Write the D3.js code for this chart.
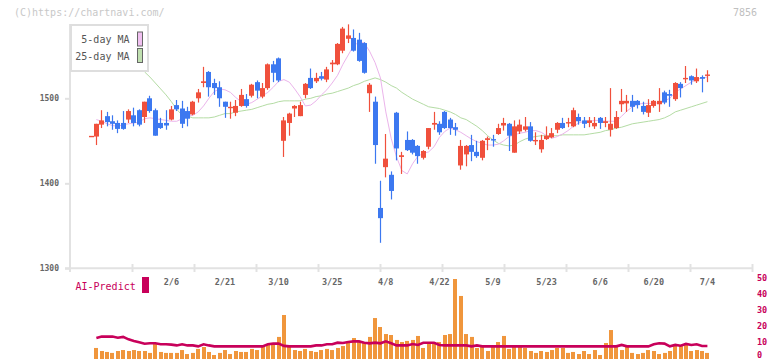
<!DOCTYPE html>
<html><head><meta charset="utf-8">
<script src="https://cdn.jsdelivr.net/npm/d3@7"></script>
<style>body{margin:0;background:#fff;}svg{display:block;}</style>
</head><body>
<script>
const openP  = [1455,1455,1469,1479,1473,1471,1471,1475,1480,1486,1478,1500,1486,1471,1471,1475,1492,1488,1485,1481,
1500,1518,1531,1518,1513,1496,1489,1483,1491,1499,1503,1519,1502,1512,1540,1547,1450,1471,1488,1479,
1504,1524,1520,1526,1522,1540,1540,1556,1570,1571,1569,1565,1506,1496,1371,1419,1410,1483,1431,1451,
1451,1444,1430,1443,1469,1470,1484,1475,1466,1421,1434,1445,1437,1430,1451,1452,1458,1468,1470,1436,
1461,1463,1467,1450,1440,1452,1454,1463,1471,1471,1467,1478,1474,1471,1467,1477,1471,1463,1465,1493,
1494,1497,1497,1491,1483,1491,1493,1507,1505,1499,1517,1523,1526,1520,1525,1527];
const closeP = [1455,1470,1474,1472,1470,1464,1464,1485,1471,1469,1496,1485,1456,1465,1468,1487,1487,1470,1476,1496,
1507,1520,1513,1512,1500,1490,1490,1491,1504,1491,1516,1509,1512,1540,1530,1521,1474,1482,1491,1492,
1517,1512,1524,1523,1534,1542,1564,1582,1574,1556,1544,1530,1516,1445,1359,1429,1391,1441,1433,1439,
1436,1432,1438,1465,1471,1460,1465,1465,1463,1444,1444,1437,1432,1450,1453,1451,1465,1471,1456,1467,
1469,1467,1450,1451,1451,1456,1459,1471,1465,1472,1486,1473,1470,1474,1471,1471,1473,1470,1478,1497,
1497,1490,1492,1484,1492,1497,1497,1495,1503,1518,1512,1524,1521,1525,1523,1528];
const highP  = [1455,1470,1486,1484,1480,1474,1485,1487,1489,1487,1496,1503,1488,1477,1486,1491,1498,1497,1490,1497,
1511,1537,1532,1523,1520,1496,1496,1498,1511,1505,1517,1521,1518,1541,1544,1548,1478,1483,1492,1496,
1518,1535,1530,1531,1537,1545,1565,1584,1587,1581,1577,1566,1518,1502,1403,1458,1414,1484,1437,1461,
1452,1445,1439,1465,1484,1473,1485,1477,1471,1451,1445,1457,1450,1451,1455,1457,1470,1477,1471,1474,
1475,1478,1472,1460,1457,1467,1465,1472,1477,1477,1489,1482,1478,1478,1478,1478,1478,1512,1485,1511,
1504,1504,1498,1496,1499,1498,1512,1509,1510,1519,1519,1538,1527,1535,1527,1533];
const lowP   = [1455,1445,1465,1467,1463,1459,1463,1471,1467,1467,1471,1483,1456,1464,1463,1474,1485,1465,1467,1480,
1495,1513,1502,1504,1490,1477,1476,1479,1490,1489,1501,1500,1500,1510,1519,1519,1431,1456,1478,1479,
1500,1511,1518,1521,1519,1531,1539,1553,1565,1555,1543,1529,1484,1423,1330,1407,1381,1427,1411,1438,
1434,1423,1428,1440,1463,1457,1464,1457,1456,1416,1420,1426,1430,1427,1439,1443,1457,1462,1438,1436,
1458,1461,1449,1445,1436,1451,1453,1459,1464,1466,1466,1469,1465,1466,1464,1464,1466,1455,1464,1484,
1484,1484,1488,1481,1478,1489,1484,1493,1490,1497,1501,1518,1516,1518,1507,1519];
const ma5 = [null,1475,1473,1470,1468,1467,1469,1470,1471,1472,1476,1477,1476,1475,1474,1473,1473,1476,1479,1480,
1484,1491,1500,1508,1511,1510,1507,1501,1496,1493,1495,1499,1503,1507,1513,1520,1522,1519,1511,1502,
1491,1492,1497,1504,1510,1518,1527,1540,1551,1562,1566,1565,1555,1542,1524,1484,1453,1431,1415,1411,
1423,1432,1435,1437,1443,1454,1461,1465,1463,1460,1456,1452,1449,1447,1445,1445,1446,1450,1455,1457,
1459,1460,1462,1462,1460,1456,1453,1455,1458,1462,1467,1471,1473,1473,1474,1474,1473,1473,1473,1479,
1485,1490,1493,1494,1494,1494,1495,1497,1500,1507,1511,1515,1519,1522,1524,1525];
const ma25 = [null,null,null,null,null,null,null,null,null,1538,1531,1525,1518,1511,1504,1496,1487,1480,1479,1477,
1477,1477,1477,1478,1480,1482,1482,1484,1485,1486,1487,1489,1491,1493,1494,1496,1497,1497,1497,1497,
1499,1500,1502,1503,1505,1506,1508,1510,1512,1515,1517,1520,1522,1524,1522,1519,1515,1512,1507,1503,
1499,1496,1493,1490,1489,1488,1486,1484,1481,1477,1475,1471,1467,1462,1456,1451,1447,1445,1444,1445,
1449,1452,1454,1455,1456,1456,1456,1456,1457,1457,1457,1457,1457,1458,1459,1460,1462,1463,1465,1466,
1468,1470,1471,1472,1473,1474,1475,1477,1480,1484,1486,1488,1490,1492,1494,1496];
const volume = [null,6.9,5,4.4,3.8,5,5.6,5,5.6,5,5,3.8,9.4,4.4,3.8,3.8,3.8,5.6,3.1,3.8,
6.3,7.5,4.4,2.5,3.8,5.6,3.1,5,4.4,4.4,6.3,5.6,7.5,8.8,9.4,13.8,27.5,7.5,5.6,5,
6.3,5,4.4,5.6,6.3,5.6,6.9,8.1,10,13.1,10.6,10.6,13.8,25.6,20,15.6,15,11.9,10.6,11.3,
11.9,14.4,6.9,9.4,10.6,10.6,15,15.6,50,39.4,15.6,13.8,6.9,7.5,5,7.5,10.6,14.4,6.3,7.5,
7.5,6.9,5,3.8,5,4.4,5.6,6.9,6.9,3.8,4.4,3.1,5,3.1,5.6,2.5,10,18.1,7.5,5.6,
7.5,3.8,3.1,3.8,5.6,5,3.1,3.8,5,8.1,8.1,8.8,5,5.6,5,3.8];
const aiPredict = [null,13.1,14,14,14,13.3,13.8,12.3,11.2,10.4,9.5,9.8,9.8,9.2,9.2,9,8.5,9.2,8.5,8.5,
7.9,9.2,8.5,7.9,7.9,7.9,7.9,7.9,7.9,7.9,7.9,7.9,7.9,9.2,9.6,9.6,8.2,7.9,7.9,7.9,
7.9,7.9,8.5,8.5,9.2,9.2,10.2,10,10.6,11,11,10.2,9.8,10.2,9.8,11,9.8,8.5,8.5,8.5,
9.4,8.8,10.2,10.2,10.2,8.8,8.5,8.5,8.5,8.5,8.5,7.9,8.5,7.9,7.9,7.9,7.9,7.9,7.9,7.9,
7.9,7.9,7.9,7.9,7.9,7.9,7.9,7.9,7.9,7.9,7.9,7.9,7.9,7.9,7.9,7.9,7.9,7.9,7.9,8.8,
7.9,7.9,7.9,7.9,7.9,9.2,9.8,9.6,7.9,8.8,8.3,9.4,8.8,9.2,8.1,8.1];
const xLabels = ["2/6","2/21","3/10","3/25","4/8","4/22","5/9","5/23","6/6","6/20","7/4"];
const xLabelIdx = [15,25,35,45,55,65,75,85,95,105,115];
const yTicks = [1300,1400,1500];
const vTicks = [0,10,20,30,40,50];
const gridTickCount = 11;

const W = 772, H = 361;
const svg = d3.select("body").append("svg").attr("width", W).attr("height", H);
const mono = "'DejaVu Sans Mono', 'Liberation Mono', monospace";

const x = d3.scaleLinear().domain([0, 115]).range([91, 707.4]);
const y = d3.scaleLinear().domain([1300, 1600]).range([268.3, 13.3]);
const v = d3.scaleLinear().domain([0, 50]).range([359, 279]);
const gx = d3.scaleLinear().domain([0, gridTickCount]).range([70, 752]);

const RED = "#f0503c", BLUE = "#3c78f0", AXIS = "#e2e2e2", MAG = "#c8005a";

// header texts
svg.append("text").attr("x", 14).attr("y", 15.5).attr("font-family", mono).attr("font-size", 10)
  .attr("fill", "#c8c8c8").text("(C)https://chartnavi.com/");
svg.append("text").attr("x", 757).attr("y", 15.5).attr("text-anchor", "end").attr("font-family", mono)
  .attr("font-size", 10).attr("fill", "#c0c0c0").text("7856");

// axes
svg.append("line").attr("x1", 70).attr("x2", 70).attr("y1", 24).attr("y2", 272)
  .attr("stroke", AXIS).attr("stroke-width", 2);
svg.append("line").attr("x1", 65).attr("x2", 752).attr("y1", y(1300)).attr("y2", y(1300))
  .attr("stroke", AXIS).attr("stroke-width", 2);
svg.append("g").selectAll("line").data(d3.range(1, gridTickCount + 1)).join("line")
  .attr("x1", d => Math.round(gx(d)) + 0.5).attr("x2", d => Math.round(gx(d)) + 0.5)
  .attr("y1", 264).attr("y2", 272).attr("stroke", AXIS).attr("stroke-width", 2);

const yAxis = d3.axisLeft(y).tickValues(yTicks).tickSize(5).tickPadding(6).tickFormat(d3.format("d"));
const yg = svg.append("g").attr("transform", "translate(70,0)").call(yAxis);
yg.select(".domain").remove();
yg.selectAll(".tick line").attr("stroke", AXIS).attr("stroke-width", 2);
yg.selectAll(".tick text").attr("font-family", mono).attr("font-size", 8).attr("font-weight", "bold").attr("fill", "#666");

// x labels
svg.append("g").selectAll("text").data(xLabels).join("text")
  .attr("x", (d, k) => x(xLabelIdx[k])).attr("y", 285)
  .attr("text-anchor", "middle").attr("font-family", mono).attr("font-size", 8.5).attr("font-weight", "bold")
  .attr("fill", "#666").text(d => d);

// moving averages
const lineGen = d3.line().defined(d => d != null).x((d, i) => x(i)).y(d => y(d));
svg.append("path").datum(ma25).attr("d", lineGen).attr("fill", "none").attr("stroke", "#b4dca4").attr("stroke-width", 1);
svg.append("path").datum(ma5).attr("d", lineGen).attr("fill", "none").attr("stroke", "#ebb4eb").attr("stroke-width", 1);

// candles
const cg = svg.append("g");
openP.forEach((o, i) => {
  const c = closeP[i], h = highP[i], l = lowP[i];
  const col = c >= o ? RED : BLUE;
  const left = Math.round(x(i) - 2.5);
  const cx = left + 2.5;
  cg.append("line").attr("x1", cx).attr("x2", cx).attr("y1", y(h)).attr("y2", y(l))
    .attr("stroke", col).attr("stroke-width", 1.2);
  if (o === c) {
    cg.append("line").attr("x1", left).attr("x2", left + 5).attr("y1", y(o)).attr("y2", y(o))
      .attr("stroke", col).attr("stroke-width", 1.4);
  } else {
    const top = y(Math.max(o, c)), bot = y(Math.min(o, c));
    cg.append("rect").attr("x", left).attr("y", top).attr("width", 5).attr("height", Math.max(1.4, bot - top))
      .attr("fill", col);
  }
});

// legend
svg.append("rect").attr("x", 71).attr("y", 25).attr("width", 77).attr("height", 46)
  .attr("fill", "#fff").attr("stroke", "#dedede").attr("stroke-width", 2);
const legendNames = ["5-day MA", "25-day MA"];
const legendCols = ["#f0c0f0", "#c0e0b0"];
legendNames.forEach((n, k) => {
  svg.append("text").attr("x", 129.5).attr("y", 43 + k * 17).attr("text-anchor", "end")
    .attr("font-family", mono).attr("font-size", 10).attr("fill", "#555").text(n);
  svg.append("rect").attr("x", 137.5).attr("y", 32 + k * 16.5).attr("width", 5).attr("height", 14)
    .attr("fill", legendCols[k]).attr("stroke", "#666").attr("stroke-width", 1);
});

// volume bars
const vg = svg.append("g");
volume.forEach((d, i) => {
  if (d == null) return;
  vg.append("rect").attr("x", Math.round(x(i) - 2)).attr("y", v(d)).attr("width", 4)
    .attr("height", v(0) - v(d)).attr("fill", "#f0963c");
});

// AI predict line
svg.append("path").datum(aiPredict).attr("d", d3.line().defined(d => d != null).x((d, i) => x(i)).y(d => v(d)))
  .attr("fill", "none").attr("stroke", MAG).attr("stroke-width", 2.6);

// right axis labels
svg.append("g").selectAll("text").data(vTicks).join("text")
  .attr("x", 757).attr("y", d => Math.min(v(d) + 1.8, 357.6)).attr("font-family", mono).attr("font-size", 8.5)
  .attr("font-weight", "bold").attr("fill", MAG).text(d => d);

// AI-Predict label
svg.append("text").attr("x", 75.5).attr("y", 290).attr("font-family", mono).attr("font-size", 10)
  .attr("fill", MAG).text("AI-Predict");
svg.append("rect").attr("x", 142).attr("y", 277).attr("width", 7).attr("height", 16).attr("fill", MAG);
</script>
</body></html>
